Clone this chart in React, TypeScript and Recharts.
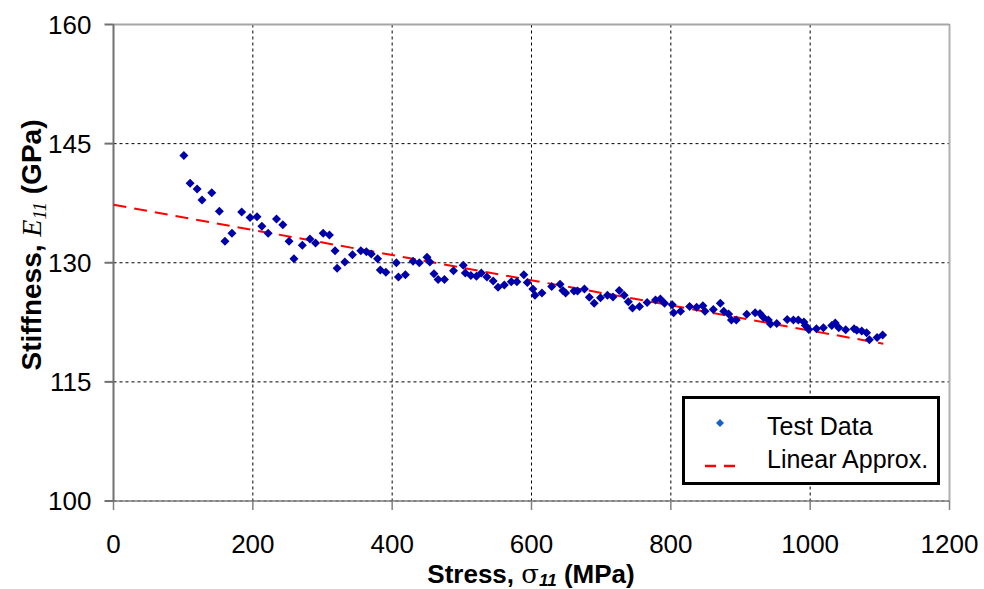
import React from 'react'
import {
  CartesianGrid,
  Legend,
  ReferenceLine,
  Scatter,
  ScatterChart,
  XAxis,
  YAxis,
} from 'recharts'

document.body.style.margin = '0'

// stress (MPa) of each test point
const stress = [
  101, 110, 120, 127, 141, 152, 160, 170, 184, 196, 206, 213, 222, 234, 243,
  252, 259, 271, 282, 290, 301, 310, 318, 321, 332, 343, 355, 363, 370, 379,
  383, 391, 406, 409, 419, 430, 439, 450, 454, 460, 466, 475, 488, 502, 505,
  513, 521, 528, 536, 545, 552, 561, 571, 579, 589, 594, 602, 605, 615, 629,
  641, 645, 649, 661, 666, 676, 683, 690, 699, 709, 717, 726, 733, 739, 745,
  755, 766, 778, 785, 791, 802, 804, 814, 827, 837, 846, 849, 861, 871, 876,
  883, 887, 894, 909, 921, 928, 933, 940, 943, 952, 967, 976, 983, 991, 993,
  998, 1009, 1019, 1031, 1036, 1041, 1051, 1063, 1067, 1074, 1081, 1085, 1096,
  1104,
]

// stiffness E11 (GPa) of each test point
const stiffness = [
  143.5, 140.0, 139.3, 137.9, 138.8, 136.5, 132.7, 133.7, 136.4, 135.7, 135.8,
  134.6, 133.7, 135.5, 134.8, 132.7, 130.5, 132.2, 133.0, 132.5, 133.7, 133.5,
  131.5, 129.3, 130.1, 131.0, 131.5, 131.4, 131.1, 130.5, 129.1, 128.8, 130.0,
  128.2, 128.5, 130.2, 130.0, 130.7, 130.1, 128.6, 127.9, 127.9, 129.0, 129.7,
  128.7, 128.4, 128.3, 128.7, 128.2, 127.7, 126.9, 127.2, 127.6, 127.6, 128.5,
  127.5, 126.7, 125.9, 126.2, 127.0, 127.3, 126.5, 126.2, 126.45, 126.45, 126.7,
  125.65, 124.9, 125.6, 125.9, 125.7, 126.5, 125.9, 125.1, 124.3, 124.5, 125.0,
  125.3, 125.45, 124.9, 124.7, 123.7, 123.9, 124.5, 124.4, 124.6, 123.9, 124.1,
  124.9, 123.9, 123.55, 122.8, 122.8, 123.5, 123.7, 123.6, 123.1, 122.8, 122.3,
  122.35, 122.85, 122.8, 122.8, 122.55, 122.1, 121.6, 121.7, 121.8, 122.1,
  122.4, 121.8, 121.55, 121.7, 121.5, 121.4, 121.2, 120.3, 120.6, 120.9,
]

// linear approximation end points
const fitStress = [0, 1105]
const fitStiffness = [137.3, 119.8]

const xTicks = [0, 200, 400, 600, 800, 1000, 1200]
const yTicks = [100, 115, 130, 145, 160]

const testData = stress.map((x, i) => ({ x, y: stiffness[i] }))
const fitData = fitStress.map((x, i) => ({ x, y: fitStiffness[i] }))

const font = '"Liberation Sans", Arial, sans-serif'
const serif = '"Liberation Serif", "Times New Roman", serif'

const Diamond = (props: any) => {
  const { cx, cy } = props
  if (cx == null || cy == null) return null
  const r = 4.5
  return (
    <path
      d={`M${cx},${cy - r}L${cx + r},${cy}L${cx},${cy + r}L${cx - r},${cy}Z`}
      fill='#0000AA'
    />
  )
}

const NoPoint = () => <g />

const XTitle = () => (
  <text
    x={531}
    y={583}
    textAnchor='middle'
    fontFamily={font}
    fontWeight='bold'
    fontSize={26}
    fill='#000'
  >
    Stress,{' '}
    <tspan fontFamily='"DejaVu Serif", serif' fontWeight='normal'>
      σ
    </tspan>
    <tspan fontStyle='italic' fontSize={17} dy={3}>
      11
    </tspan>
    <tspan dy={-3}> (MPa)</tspan>
  </text>
)

const YTitle = () => (
  <text
    x={41}
    y={245}
    transform='rotate(-90, 41, 245)'
    textAnchor='middle'
    fontFamily={font}
    fontWeight='bold'
    fontSize={28}
    fill='#000'
  >
    Stiffness,{' '}
    <tspan fontFamily={serif} fontStyle='italic' fontWeight='normal'>
      E
    </tspan>
    <tspan
      fontFamily={serif}
      fontStyle='italic'
      fontWeight='normal'
      fontSize={19}
      dy={5}
    >
      11
    </tspan>
    <tspan dy={-5}> (GPa)</tspan>
  </text>
)

const LegendBox = () => (
  <svg width={258} height={89} style={{ display: 'block' }}>
    <rect x={1.5} y={1.5} width={255} height={86} fill='#fff' stroke='#000' strokeWidth={3} />
    <path d='M38,23L42,27L38,31L34,27Z' fill='#1560D0' />
    <text x={85} y={39} fontFamily={font} fontSize={25} fill='#000'>
      Test Data
    </text>
    <line x1={23} y1={70} x2={55} y2={70} stroke='#FF0000' strokeWidth={2.5} strokeDasharray='11 8' />
    <text x={85} y={72} fontFamily={font} fontSize={25} fill='#000'>
      Linear Approx.
    </text>
  </svg>
)

const App = () => {
  return (
    <ScatterChart
      width={984}
      height={589}
      margin={{ top: 24.5, right: 34.5, left: 0, bottom: 0 }}
    >
      <CartesianGrid stroke='#000' strokeDasharray='3 3' />
      <XAxis
        type='number'
        dataKey='x'
        domain={[0, 1200]}
        ticks={xTicks}
        height={88}
        tickSize={9}
        tickMargin={25}
        stroke='#808080'
        strokeWidth={1.5}
        tick={{ fill: '#000', fontSize: 26, fontFamily: font }}
        label={{ content: XTitle }}
      />
      <YAxis
        type='number'
        dataKey='y'
        domain={[100, 160]}
        ticks={yTicks}
        width={113.5}
        tickSize={9}
        tickMargin={13}
        stroke='#707070'
        strokeWidth={2}
        tick={{ fill: '#000', fontSize: 26, fontFamily: font }}
        label={{ content: YTitle }}
      />
      <ReferenceLine y={160} stroke='#A6A6A6' strokeWidth={2} />
      <ReferenceLine x={1200} stroke='#B0B0B0' strokeWidth={2} />
      <Scatter
        name='Linear Approx.'
        data={fitData}
        line={{ stroke: '#FF0000', strokeWidth: 2, strokeDasharray: '13 8' }}
        lineType='joint'
        shape={NoPoint}
        isAnimationActive={false}
      />
      <Scatter
        name='Test Data'
        data={testData}
        shape={Diamond}
        isAnimationActive={false}
      />
      <Legend
        layout='vertical'
        align='center'
        verticalAlign='middle'
        content={LegendBox}
        wrapperStyle={{ left: 682, top: 396, width: 258, height: 89 }}
      />
    </ScatterChart>
  )
}

export default App
